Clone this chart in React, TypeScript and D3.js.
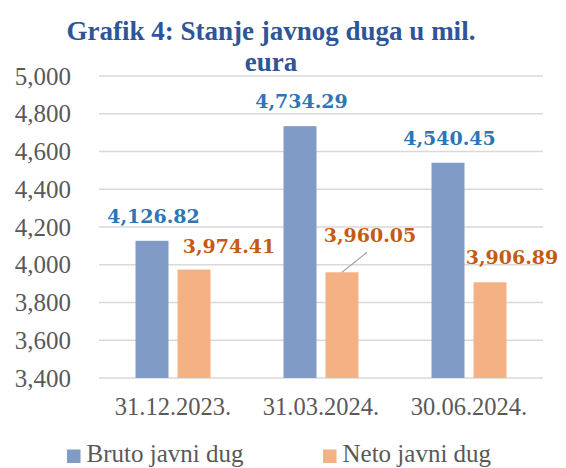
import React from "react";
import * as d3 from "d3";

const categories = ["31.12.2023.", "31.03.2024.", "30.06.2024."];
const seriesNames = ["Bruto javni dug", "Neto javni dug"];
const brutoValues = [4126.82, 4734.29, 4540.45];
const netoValues = [3974.41, 3960.05, 3906.89];
const yTicks = [3400, 3600, 3800, 4000, 4200, 4400, 4600, 4800, 5000];
const titleLines = ["Grafik 4: Stanje javnog duga u mil.", "eura"];

// label placement tweaks (px) for the orange labels, as in the reference
const netoLabelOffsets = [
  { dx: 35, dy: -17, leader: false },
  { dx: 28, dy: -30, leader: true },
  { dx: 22, dy: -18, leader: false },
];

const W = 566;
const H = 468;
const colors = { bruto: "#7f9bc6", neto: "#f4b183", brutoText: "#2e75b6", netoText: "#c55a11", title: "#2f5597", axis: "#595959", grid: "#d9d9d9" };

export default function App() {
  const x = d3.scaleBand<string>().domain(categories).range([99, 543]).padding(0);
  const y = d3.scaleLinear().domain([3400, 5000]).range([378, 76]);
  const fmt = d3.format(",.2f");
  const fmtTick = d3.format(",");
  const groupW = 75;
  const sub = (c: string) =>
    d3
      .scaleBand<string>()
      .domain(seriesNames)
      .range([x(c)! + x.bandwidth() / 2 - groupW / 2, x(c)! + x.bandwidth() / 2 + groupW / 2])
      .paddingInner(9 / 42);

  const tickFont = "'Liberation Serif', serif";
  const labelFont = "'DejaVu Serif', serif";

  return (
    <div style={{ position: "fixed", left: 0, top: 0, width: W, height: H, background: "#fff" }}>
      <svg width={W} height={H} style={{ display: "block" }}>
        <rect width={W} height={H} fill="#fff" />
        {titleLines.map((t, i) => (
          <text key={i} x={271} y={40 + i * 31} textAnchor="middle" fontFamily={tickFont} fontWeight="bold" fontSize={27} fill={colors.title}>
            {t}
          </text>
        ))}
        {yTicks.map((t) => (
          <g key={t}>
            <line x1={99} x2={543} y1={y(t)} y2={y(t)} stroke={colors.grid} strokeWidth={1.5} />
            <text x={71} y={y(t) + 8.5} textAnchor="end" fontFamily={tickFont} fontSize={25} fill={colors.axis}>
              {fmtTick(t)}
            </text>
          </g>
        ))}
        {categories.map((c, i) => {
          const s = sub(c);
          const bx = s(seriesNames[0])!;
          const nx = s(seriesNames[1])!;
          const bw = s.bandwidth();
          const off = netoLabelOffsets[i];
          const ncx = nx + bw / 2 + off.dx;
          const ny = y(netoValues[i]) + off.dy;
          return (
            <g key={c}>
              <rect x={bx} y={y(brutoValues[i])} width={bw} height={y(3400) - y(brutoValues[i])} fill={colors.bruto} />
              <rect x={nx} y={y(netoValues[i])} width={bw} height={y(3400) - y(netoValues[i])} fill={colors.neto} />
              <text x={bx + bw / 2 + 1.5} y={y(brutoValues[i]) - 18} textAnchor="middle" fontFamily={labelFont} fontWeight="bold" fontSize={19} fill={colors.brutoText}>
                {fmt(brutoValues[i])}
              </text>
              <text x={ncx} y={ny} textAnchor="middle" fontFamily={labelFont} fontWeight="bold" fontSize={19} fill={colors.netoText}>
                {fmt(netoValues[i])}
              </text>
              {off.leader && (
                <line x1={ncx - 3} y1={ny + 10} x2={nx + bw / 2} y2={y(netoValues[i])} stroke="#a6a6a6" strokeWidth={1.2} />
              )}
              <text x={x(c)! + x.bandwidth() / 2} y={415} textAnchor="middle" fontFamily={tickFont} fontSize={24.5} fill={colors.axis}>
                {c}
              </text>
            </g>
          );
        })}
        {seriesNames.map((n, i) => (
          <g key={n} transform={`translate(${i === 0 ? 67 : 323},0)`}>
            <rect x={0} y={449.5} width={13.5} height={13.5} fill={i === 0 ? colors.bruto : colors.neto} />
            <text x={19.5} y={462} fontFamily={tickFont} fontSize={25} fill={colors.axis}>
              {n}
            </text>
          </g>
        ))}
      </svg>
    </div>
  );
}
